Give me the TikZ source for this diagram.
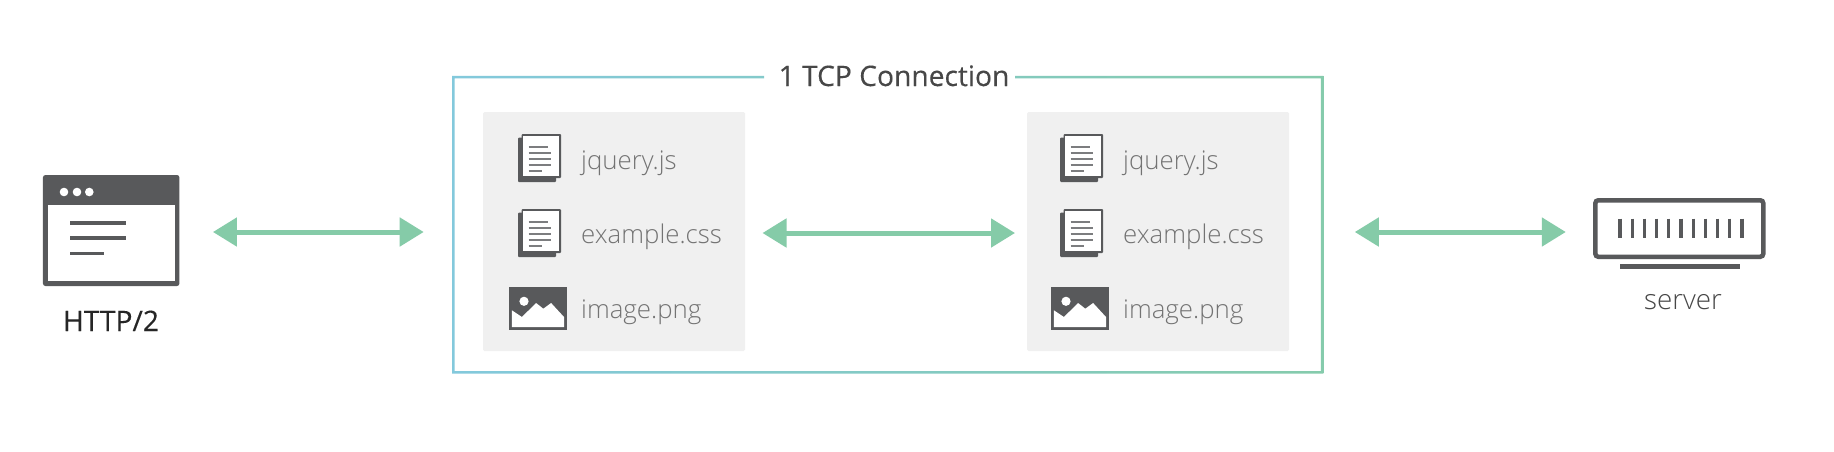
\documentclass[tikz,border=0pt]{standalone}
\usepackage{fontspec}
\setmainfont{Open Sans}
\newfontfamily\lightfont{Open Sans Light}
\newfontfamily\headfont[FakeBold=0.25]{Open Sans}
\usetikzlibrary{arrows.meta}
\definecolor{icongray}{HTML}{58595B}
\definecolor{linegray}{HTML}{7C7D7F}
\definecolor{linkgreen}{HTML}{85CBA8}
\definecolor{panegray}{HTML}{F0F0F0}
\definecolor{frameblue}{HTML}{83C9DC}
\definecolor{framegreen}{HTML}{85CBAC}
\tikzset{
  x=1pt,y=-1pt,
  link/.style={draw=linkgreen,line width=5pt,{Triangle[length=24pt,width=28pt]}-{Triangle[length=24pt,width=28pt]}},
  blank/.style={inner sep=0pt,outer sep=0pt,minimum width=#1},
  pane/.style={fill=panegray,rounded corners=1.5pt,inner sep=0pt,outer sep=0pt,minimum width=262pt,minimum height=239pt},
  filetext/.style={anchor=base west,inner sep=0pt,text=black!55,font=\lightfont\fontsize{25.8}{30}\selectfont},
  headtext/.style={inner sep=0pt,anchor=base,text=#1},
  iconline/.style={draw=linegray,line width=1.6pt},
  docicon/.pic={
    \fill[icongray,rounded corners=1pt] (0,3.5) rectangle (38,48);
    \fill[icongray,rounded corners=1pt] (3.5,0) rectangle (43,44);
    \fill[white] (5,2) rectangle (41,42);
    \draw[iconline] (10.5,12.7) -- (29.5,12.7);
    \draw[iconline] (10.5,18.7) -- (33,18.7);
    \draw[iconline] (10.5,24.7) -- (33,24.7);
    \draw[iconline] (10.5,30.7) -- (33,30.7);
    \draw[iconline] (10.5,36.7) -- (24,36.7);
  },
  imgicon/.pic={
    \fill[icongray] (0,0) rectangle (57.5,42.7);
    \fill[white] (2.9,23.3) -- (12.9,30) -- (27.1,16) -- (34.3,21.7) -- (42.1,16) -- (55,30) -- (55,40) -- (2.9,40) -- cycle;
    \fill[white] (15,14.3) circle (4.6);
  },
}
\begin{document}
\begin{tikzpicture}
\useasboundingbox (0,0) rectangle (1834,451);
\fill[white] (0,0) rectangle (1834,451);
% frame
\shade[left color=frameblue,right color=framegreen]
  (452.2,75.9) rectangle (764,78.3)
  (1015,75.9) rectangle (1323.3,78.3)
  (452.2,78.3) rectangle (454.6,371.2)
  (1320.9,78.3) rectangle (1323.3,371.2)
  (452.2,371.2) rectangle (1323.3,373.6);
\node[blank=871.1pt,minimum height=297.7pt] (frame) at (887.75,224.75) {};
\node[headtext=black!72,font=\headfont\fontsize{28.2}{32}\selectfont] (title) at (894,86) {1 TCP Connection};
% panes
\node[pane] (paneA) at (614,231.5) {};
\node[pane] (paneB) at (1158,231.5) {};
% browser
\node[fill=icongray,rounded corners=2.5pt,inner sep=0pt,outer sep=0pt,minimum width=136.5pt,minimum height=111pt] (browser) at (111.2,230.5) {};
\fill[white] (48.3,205) rectangle (175,281);
\fill[white] (64,192) circle (4.3) (77,192) circle (4.3) (89.3,192) circle (4.3);
\draw[draw=icongray,line width=3.2pt] (70,223) -- (126,223) (70,238) -- (126,238) (70,253.3) -- (104,253.3);
\node[headtext=black!85,font=\headfont\fontsize{28.2}{32}\selectfont] (httplabel) at (111,331) {HTTP/2};
% server
\node[draw=icongray,line width=4.5pt,rounded corners=3pt,inner sep=0pt,outer sep=0pt,minimum width=168pt,minimum height=56.5pt] (srv) at (1679.3,228.5) {};
\foreach \i in {0,...,10} \draw[draw=icongray,line width=3.2pt] (1620+12.2*\i,218.5) -- (1620+12.2*\i,238);
\fill[icongray] (1619.5,264) rectangle (1740,269);
\node[headtext=black!72,font=\lightfont\fontsize{27.8}{32}\selectfont] (srvlabel) at (1683,309) {server};
% file lists
\foreach \o/\p in {0/A,542/B}{
  \pic at (518+\o,134) {docicon};
  \pic at (518+\o,209) {docicon};
  \pic at (509+\o,287) {imgicon};
  \node[filetext] (jq\p) at (581+\o,169) {jquery.js};
  \node[filetext] (ex\p) at (581+\o,243) {example.css};
  \node[filetext] (im\p) at (581+\o,318) {image.png};
}
% connectors
\coordinate (rowA) at (0,232);
\coordinate (rowB) at (0,233);
\draw[link] ([xshift=33.5pt]browser.east |- rowA) -- ([xshift=-28.5pt]frame.west |- rowA);
\draw[link] ([xshift=17.5pt]paneA.east |- rowB) -- ([xshift=-12pt]paneB.west |- rowB);
\draw[link] ([xshift=31.5pt]frame.east |- rowA) -- ([xshift=-29.5pt]srv.west |- rowA);
\end{tikzpicture}
\end{document}
